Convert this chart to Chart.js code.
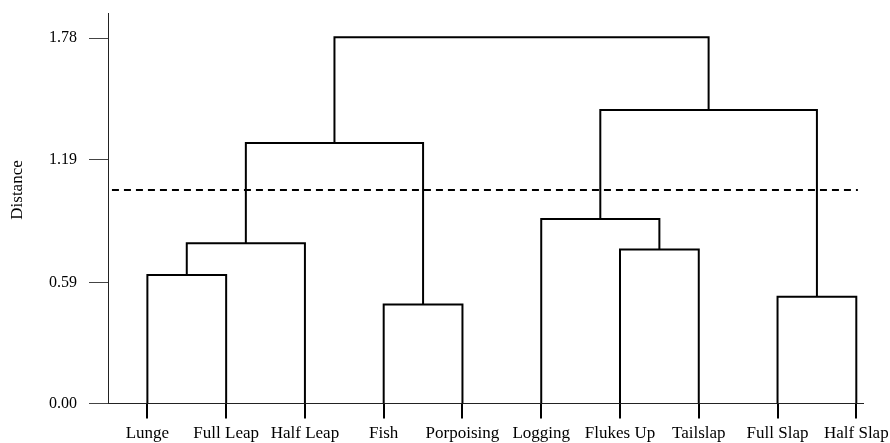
<!DOCTYPE html>
<html>
<head>
<meta charset="utf-8">
<script src="https://cdn.jsdelivr.net/npm/chart.js@4.4.0/dist/chart.umd.min.js"></script>
<style>
  html, body { margin: 0; padding: 0; background: #fff; }
  #wrap { width: 890px; height: 443px; }
</style>
</head>
<body>
<div id="wrap"><canvas id="chartDendro"></canvas></div>
<script>
// folhas na ordem do eixo
var leaves = ['Lunge', 'Full Leap', 'Half Leap', 'Fish', 'Porpoising', 'Logging', 'Flukes Up', 'Tailslap', 'Full Slap', 'Half Slap'];

// fusões: nó 10 em diante (índices de 0 a 9 são as folhas)
var mergeLeft   = [0, 10, 3, 11, 6, 5, 8, 15, 13];
var mergeRight  = [1, 2, 4, 12, 7, 14, 9, 16, 17];
var mergeHeight = [0.626, 0.781, 0.483, 1.270, 0.751, 0.899, 0.520, 1.430, 1.785];

// linha de corte (tracejada) e rótulos do eixo y
var cutoffDistance = 1.04;
var yTicks = [0, 0.59, 1.19, 1.78];

var serif = "'Liberation Serif', 'Times New Roman', serif";

// posição x e altura de cada nó
var nodeX = leaves.map(function (l, i) { return i; });
var nodeY = leaves.map(function () { return 0; });

var datasets = [];
for (var k = 0; k < mergeHeight.length; k++) {
    var a = mergeLeft[k], b = mergeRight[k], h = mergeHeight[k];
    datasets.push({
        data: [
            { x: nodeX[a], y: nodeY[a] },
            { x: nodeX[a], y: h },
            { x: nodeX[b], y: h },
            { x: nodeX[b], y: nodeY[b] }
        ],
        borderColor: '#000',
        borderWidth: 2,
        pointRadius: 0,
        fill: false,
        tension: 0
    });
    nodeX.push((nodeX[a] + nodeX[b]) / 2);
    nodeY.push(h);
}

// linha tracejada
datasets.push({
    data: [{ x: -0.45, y: cutoffDistance }, { x: 9.02, y: cutoffDistance }],
    borderColor: '#000',
    borderWidth: 2,
    borderDash: [7, 5],
    pointRadius: 0,
    fill: false
});

// título do eixo y, desenhado à mão
var yTitlePlugin = {
    id: 'yTitle',
    afterDraw: function (chart) {
        var c = chart.ctx;
        c.save();
        c.translate(18, 190);
        c.rotate(-Math.PI / 2);
        c.fillStyle = '#000';
        c.font = '17px ' + serif;
        c.textAlign = 'center';
        c.textBaseline = 'middle';
        c.fillText('Distance', 0, 0);
        c.restore();
    }
};

var ctx = document.getElementById('chartDendro').getContext('2d');
var myChart = new Chart(ctx, {
    type: 'line',
    data: { datasets: datasets },
    plugins: [yTitlePlugin],
    options: {
        responsive: true,
        maintainAspectRatio: false,
        animation: false,
        layout: { padding: { left: 0, top: 13.6, right: 27, bottom: 0 } },
        plugins: {
            legend: { display: false },
            tooltip: { enabled: false }
        },
        scales: {
            x: {
                type: 'linear',
                min: -0.5,
                max: 9.085,
                afterBuildTicks: function (scale) {
                    scale.ticks = leaves.map(function (l, i) { return { value: i }; });
                },
                afterFit: function (scale) {
                    scale.height = 39.5;
                    scale.paddingLeft = 0;
                    scale.paddingRight = 0;
                },
                grid: { drawOnChartArea: false, drawTicks: true, tickLength: 15, color: '#000', lineWidth: 2 },
                border: { display: true, color: '#222', width: 1 },
                ticks: {
                    autoSkip: false,
                    maxRotation: 0,
                    padding: 5,
                    color: '#000',
                    font: { family: serif, size: 17 },
                    callback: function (v) { return leaves[v]; }
                }
            },
            y: {
                type: 'linear',
                min: 0,
                max: 1.9,
                afterBuildTicks: function (scale) {
                    scale.ticks = yTicks.map(function (v) { return { value: v }; });
                },
                afterFit: function (scale) {
                    scale.width = 108;
                    scale.paddingTop = 0;
                    scale.paddingBottom = 0;
                },
                grid: { drawOnChartArea: false, drawTicks: true, tickLength: 19, color: '#444', lineWidth: 1 },
                border: { display: true, color: '#222', width: 1 },
                ticks: {
                    padding: 12,
                    color: '#000',
                    font: { family: serif, size: 16 },
                    callback: function (v) { return v.toFixed(2); }
                }
            }
        }
    }
});
</script>
</body>
</html>
